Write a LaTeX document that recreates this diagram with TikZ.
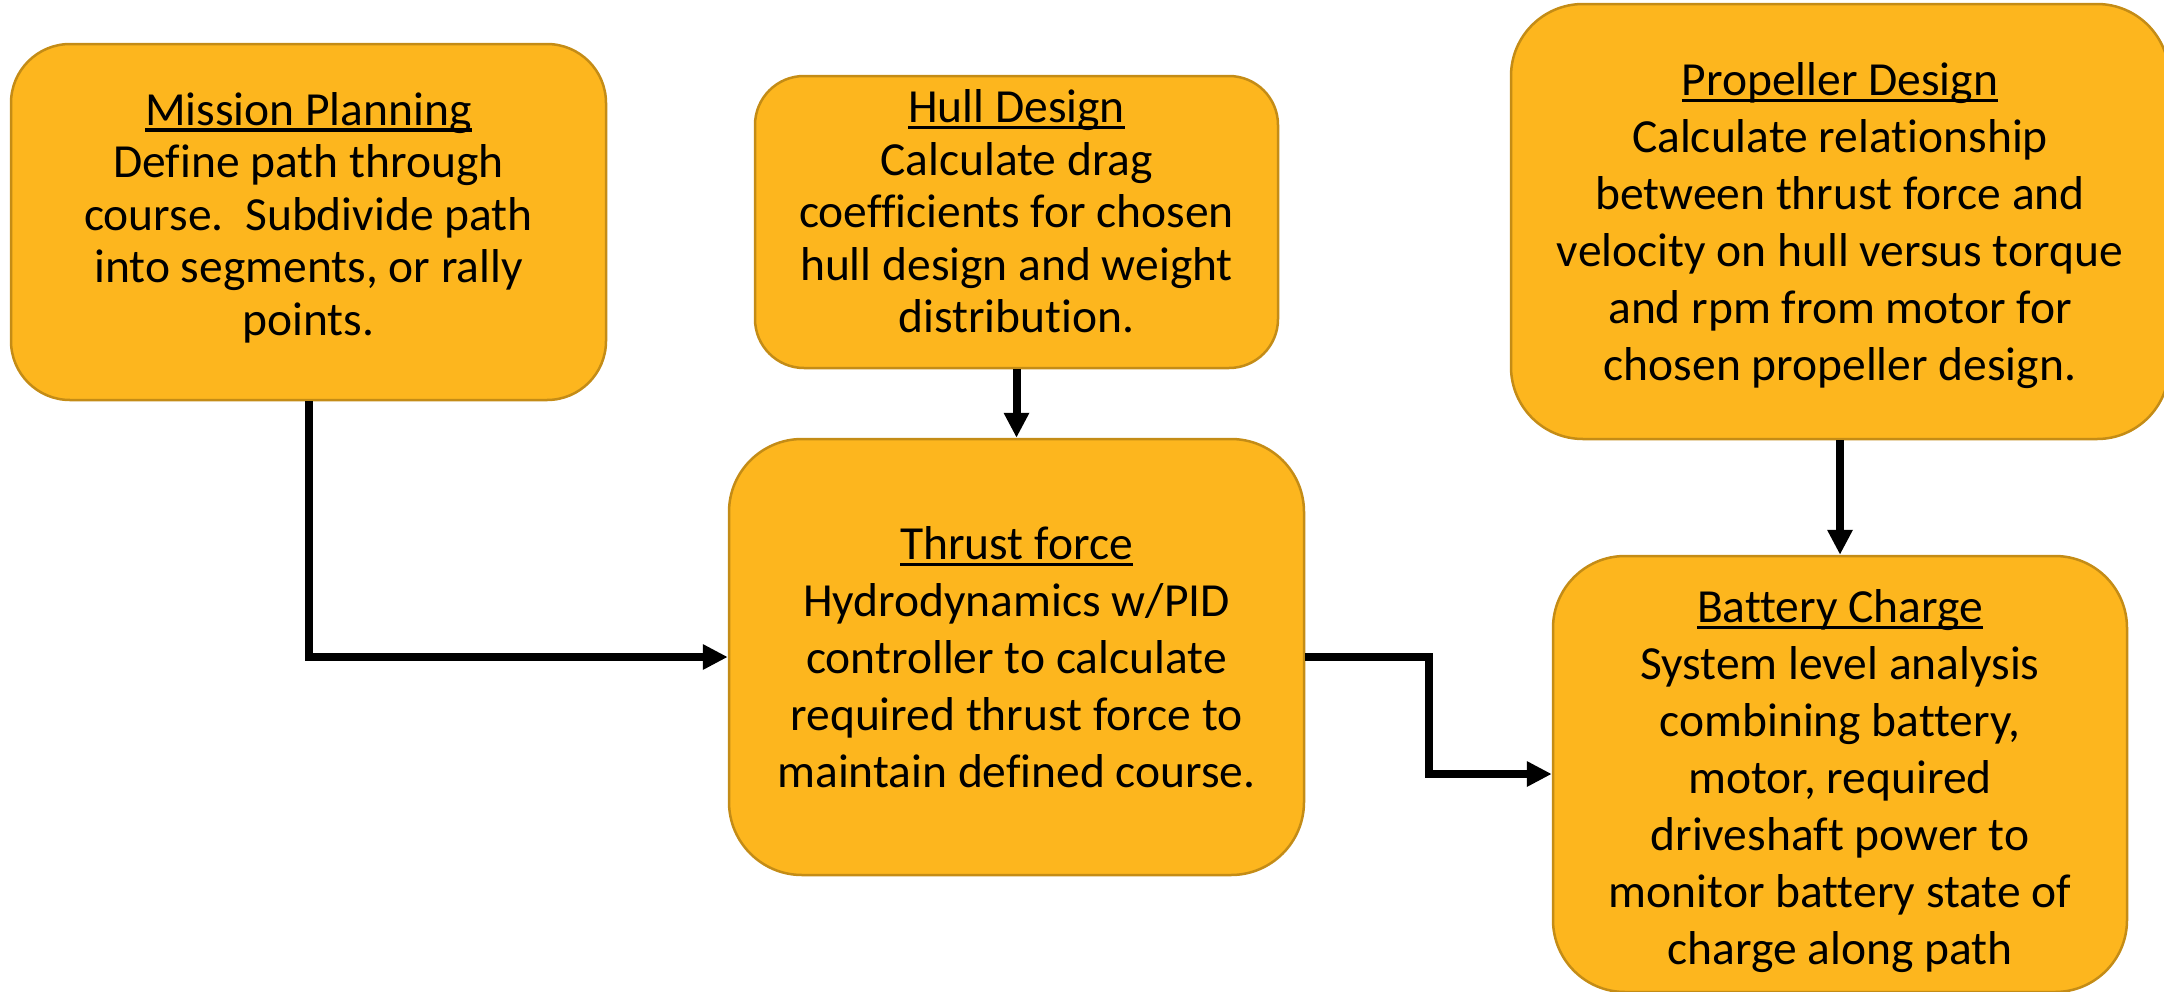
\documentclass[tikz,border=0pt]{standalone}
\usepackage{fontspec}
\setmainfont{Carlito}[Ligatures={NoCommon}]
\usetikzlibrary{arrows.meta,calc}
\definecolor{boxfill}{RGB}{253,182,30}
\definecolor{boxline}{RGB}{196,140,22}
% heading with a heavier underline
\newcommand\hdline[1]{\setbox0\hbox{#1}\leavevmode\rlap{\rule[-6.5pt]{\wd0}{3.2pt}}\box0}
\begin{document}
\begin{tikzpicture}[x=1pt,y=-1pt,
  stage/.style={draw=boxline, fill=boxfill, line width=2.5pt, rectangle, inner sep=0pt},
  blurb/.style={align=center, inner sep=0pt, font=\fontsize{47.5}{52.5}\selectfont},
  blurbwide/.style={align=center, inner sep=0pt, font=\fontsize{47.5}{57}\selectfont},
  flow/.style={line width=8pt, -{Triangle[length=25pt,width=24pt]}}]
\useasboundingbox (0,0) rectangle (2164,991);

% stage boxes
\node[stage, minimum width=595pt, minimum height=356pt, rounded corners=59pt] (mission) at (308.5,222) {};
\node[stage, minimum width=523pt, minimum height=292pt, rounded corners=49pt] (hull) at (1016.5,222) {};
\node[stage, minimum width=658pt, minimum height=435pt, rounded corners=72pt] (propeller) at (1840,221.5) {};
\node[stage, minimum width=575pt, minimum height=436pt, rounded corners=73pt] (thrust) at (1016.5,657) {};
\node[stage, minimum width=574pt, minimum height=436pt, rounded corners=72pt] (battery) at (1840,774) {};

% stage descriptions
\node[blurb] (missiontext) at (308.5,217.5) {\hdline{Mission Planning}\\Define path through\\course.\ \ Subdivide path\\into segments, or rally\\points.};
\node[blurb] (hulltext) at (1016.5,211.5) {\hdline{Hull Design}\\Calculate drag\\coefficients for chosen\\hull design and weight\\distribution.};
\node[blurbwide] (propellertext) at (1840,225.5) {\hdline{Propeller Design}\\Calculate relationship\\between thrust force and\\velocity on hull versus torque\\and rpm from motor for\\chosen propeller design.};
\node[blurbwide] (thrusttext) at (1016.5,657.5) {\hdline{Thrust force}\\Hydrodynamics w/PID\\controller to calculate\\required thrust force to\\maintain defined course.};
\node[blurbwide] (batterytext) at (1840,781) {\hdline{Battery Charge}\\System level analysis\\combining battery,\\motor, required\\driveshaft power to\\monitor battery state of\\charge along path};

% connectors
\draw[flow] (mission.south) |- (thrust.west);
\draw[flow] (hull.south) -- (thrust.north);
\draw[flow] (propeller.south) -- (battery.north);
\coordinate (bend) at ($(thrust.east)!0.5!(battery.west)$);
\draw[flow] (thrust.east) -| (bend) |- (battery.west);
\end{tikzpicture}
\end{document}
